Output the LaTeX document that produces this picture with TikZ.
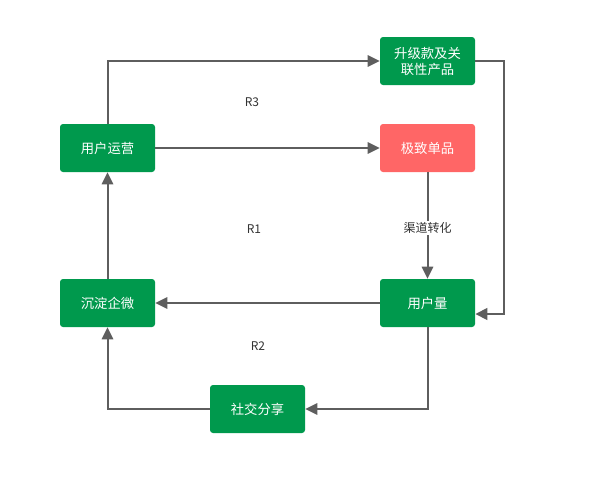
\documentclass[tikz,border=0pt]{standalone}
\usepackage{fontspec}
\setmainfont{Noto Sans CJK SC}
\usetikzlibrary{arrows.meta}
\definecolor{boxgreen}{HTML}{00994D}
\definecolor{boxred}{HTML}{FF6666}
\definecolor{linegray}{HTML}{5E5E5E}
\definecolor{txtgray}{HTML}{333333}
\tikzset{
  box/.style={rectangle, rounded corners=2.25pt, minimum width=71.25pt, minimum height=36pt, inner sep=0pt, text=white, font=\fontsize{10pt}{12pt}\selectfont, align=center},
  gbox/.style={box, fill=boxgreen},
  rbox/.style={box, fill=boxred},
  conn/.style={draw=linegray, line width=1.5pt, -{Triangle[length=9pt,width=8.5pt]}},
  lbl/.style={text=txtgray, font=\fontsize{9pt}{11pt}\selectfont, inner sep=1pt},
}
\begin{document}
\begin{tikzpicture}[x=0.75pt,y=-0.75pt]
\useasboundingbox (0,0) rectangle (592,489);
\node[gbox] (yy) at (107.5,148) {用户运营};
\node[gbox] (sj) at (427.5,61) {升级款及关\\联性产品};
\node[rbox] (jz) at (427.5,148) {极致单品};
\node[gbox] (yhl) at (427.5,303) {用户量};
\node[gbox] (cd) at (107.5,303) {沉淀企微};
\node[gbox] (sh) at (257.5,409) {社交分享};
\node[lbl] (r3) at (252,102) {R3};
\node[lbl] (r1) at (254,229) {R1};
\node[lbl] (r2) at (258,346) {R2};
\coordinate (c1) at (107.5,61);
\coordinate (c2) at (504,61);
\coordinate (c3) at (504,314);
\coordinate (c4) at (427.5,409);
\coordinate (c5) at (107.5,409);
\draw[conn] (yy.north) -- (c1) -- (sj.west);
\draw[conn, line width=2.2pt] (sj.east) -- (c2) -- (c3) -- (yhl.east |- c3);
\draw[conn] (yy.east) -- (jz.west);
\draw[conn] (jz.south) -- node[lbl, fill=white, pos=0.52] (qd) {渠道转化} (yhl.north);
\draw[conn] (yhl.west) -- (cd.east);
\draw[conn] (yhl.south) -- (c4) -- (sh.east);
\draw[conn] (sh.west) -- (c5) -- (cd.south);
\draw[conn] (cd.north) -- (yy.south);
\end{tikzpicture}
\end{document}
